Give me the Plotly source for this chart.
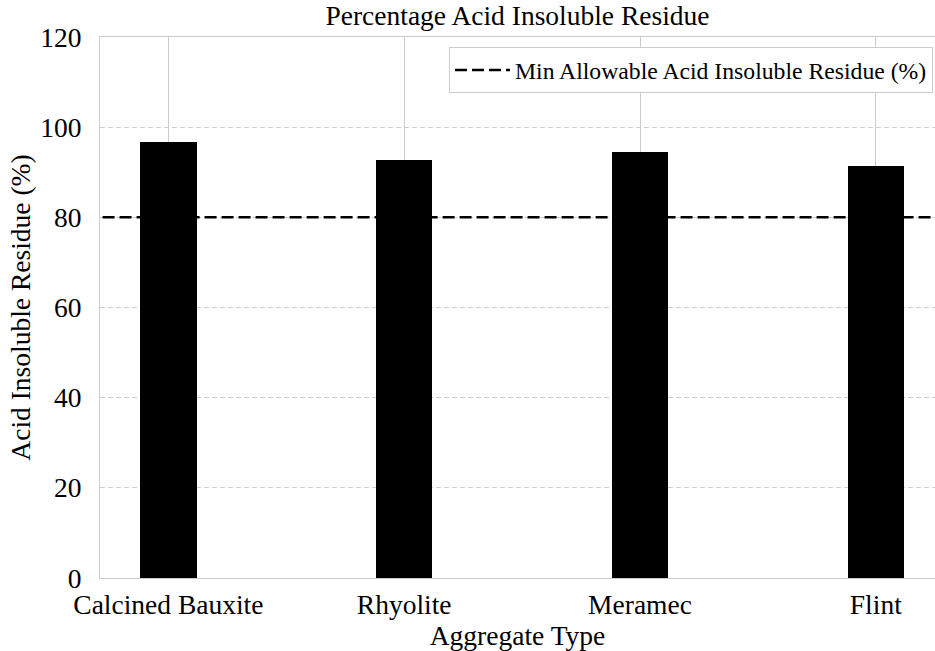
import plotly.graph_objects as go

# Aggregate types and their measured acid insoluble residue (%)
aggregates = ["Calcined Bauxite", "Rhyolite", "Meramec", "Flint"]
residue_pct = [96.7, 92.8, 94.4, 91.4]

# Specification minimum
min_allowable = 80
min_label = "Min Allowable Acid Insoluble Residue (%)"

y_ticks = [0, 20, 40, 60, 80, 100, 120]

FONT = "Liberation Serif"
GRID = "#cccccc"
SIZE = 27.5

fig = go.Figure()

fig.add_trace(go.Bar(
    x=list(range(len(aggregates))),
    y=residue_pct,
    width=0.24,
    marker=dict(color="black", line=dict(color="black", width=0)),
    showlegend=False,
))

fig.add_trace(go.Scatter(
    x=[-1, len(aggregates)],
    y=[min_allowable, min_allowable],
    mode="lines",
    line=dict(color="black", width=2.5, dash="12px,5px"),
    name=min_label,
    showlegend=True,
))

fig.update_layout(
    width=935,
    height=651,
    margin=dict(l=100, r=0, t=37, b=73),
    paper_bgcolor="white",
    plot_bgcolor="white",
    font=dict(family=FONT, size=SIZE, color="black"),
    title=dict(
        text="Percentage Acid Insoluble Residue",
        x=0.5, xanchor="center",
        xref="paper",
        y=1, yref="container", yanchor="top",
        pad=dict(t=6),
        font=dict(family=FONT, size=SIZE),
    ),
    showlegend=True,
    legend=dict(
        x=0.9976, xanchor="right",
        y=0.9815, yanchor="top",
        bgcolor="white",
        bordercolor=GRID,
        borderwidth=1,
        itemwidth=55,
        font=dict(family=FONT, size=23.7),
    ),
    bargap=0,
)

fig.update_xaxes(
    tickmode="array",
    tickvals=list(range(len(aggregates))),
    ticktext=aggregates,
    range=[-0.29, 3.251],
    showgrid=True,
    gridcolor=GRID,
    gridwidth=1,
    showline=True,
    linecolor=GRID,
    linewidth=1,
    mirror=True,
    ticks="",
    ticklabelstandoff=2,
    tickfont=dict(family=FONT, size=SIZE),
    title=dict(text="Aggregate Type", font=dict(family=FONT, size=SIZE), standoff=1),
    zeroline=False,
)

fig.update_yaxes(
    range=[0, 120],
    tickmode="array",
    tickvals=y_ticks,
    showgrid=True,
    gridcolor=GRID,
    gridwidth=1,
    griddash="5px,3px",
    showline=True,
    linecolor=GRID,
    linewidth=1,
    mirror=False,
    ticks="",
    ticklabelstandoff=12,
    tickfont=dict(family=FONT, size=SIZE),
    title=dict(text="Acid Insoluble Residue (%)", font=dict(family=FONT, size=SIZE), standoff=1),
    zeroline=False,
)

fig.write_html("out.html")
